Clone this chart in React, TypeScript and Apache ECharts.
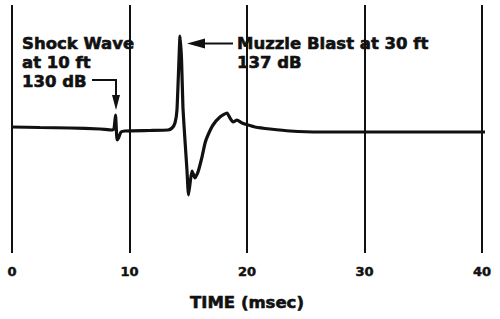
import React, { useEffect, useRef } from "react";
import * as echarts from "echarts";

// Time (msec) of each sampled point of the recorded pressure trace
const timeMs = [
  0, 2.38, 4.94, 7.49, 8.51, 8.68, 8.81, 8.94, 9.06, 9.28, 9.62, 11.74, 13.28,
  13.62, 13.87, 14.04, 14.21, 14.3, 14.43, 14.55, 14.72, 14.89, 15.02, 15.19,
  15.32, 15.57, 15.83, 16.17, 16.43, 16.68, 17.11, 17.7, 18.3, 18.55, 18.81,
  19.15, 19.57, 20.09, 20.68, 21.96, 23.66, 26.21, 30.04, 34.72, 40, 41.36,
];
// Relative pressure amplitude (arbitrary units)
const pressure = [
  3, 2.5, 2, 1, 0, 1, 15, -10, -8, -2, -1, -0.5, 0, 2, 7, 20, 70, 94, 70, 22,
  -10, -40, -65, -50, -41, -48, -42, -27, -13, -5, 5, 13, 17, 12, 8, 10, 7, 5,
  3, 1, -1, -2, -2, -2, -2, -2,
];
const xTicks = [0, 10, 20, 30, 40];
const xTitle = "TIME (msec)";
const shockLabel = ["Shock Wave", "at 10 ft", "130 dB"];
const muzzleLabel = ["Muzzle Blast at 30 ft", "137 dB"];

const INK = "#111";
const FONT = '"DejaVu Sans", sans-serif';

export default function App() {
  const ref = useRef<HTMLDivElement>(null);
  useEffect(() => {
    if (!ref.current) return;
    const chart = echarts.init(ref.current, undefined, { renderer: "svg" });
    const data = timeMs.map((t, i) => [t, pressure[i]]);
    const txt = (text: string, x: number, y: number) => ({
      type: "text",
      x,
      y,
      style: {
        text,
        fill: INK,
        font: `bold 16.5px ${FONT}`,
        verticalAlign: "middle",
        align: "left",
        stroke: INK,
        lineWidth: 0.6,
      },
    });
    chart.setOption({
      animation: false,
      backgroundColor: "#fff",
      grid: { left: 12, right: 18, top: 5, bottom: 66 },
      xAxis: {
        type: "value",
        min: xTicks[0],
        max: xTicks[xTicks.length - 1],
        interval: 10,
        axisLine: { show: false },
        axisTick: { show: false },
        splitLine: { show: true, lineStyle: { color: INK, width: 2 } },
        axisLabel: {
          color: INK,
          fontFamily: FONT,
          fontWeight: "bold",
          fontSize: 13,
          margin: 12,
          textBorderColor: INK,
          textBorderWidth: 0.5,
        },
        name: xTitle,
        nameLocation: "middle",
        nameGap: 41,
        nameTextStyle: {
          color: INK,
          fontFamily: FONT,
          fontWeight: "bold",
          fontSize: 16.5,
          textBorderColor: INK,
          textBorderWidth: 0.6,
        },
      },
      yAxis: {
        type: "value",
        min: -123,
        max: 125,
        show: false,
        splitLine: { show: false },
      },
      series: [
        {
          type: "line",
          data,
          showSymbol: false,
          clip: false,
          smooth: 0.15,
          lineStyle: { color: INK, width: 3.2 },
        },
      ],
      graphic: [
        txt(shockLabel[0], 22, 43.5),
        txt(shockLabel[1], 22, 62),
        txt(shockLabel[2], 22, 81.5),
        txt(muzzleLabel[0], 237, 43.5),
        txt(muzzleLabel[1], 237, 62),
        {
          type: "polyline",
          shape: { points: [[92, 80], [116, 80], [116, 97]] },
          style: { stroke: INK, lineWidth: 2, fill: null },
        },
        {
          type: "polygon",
          shape: { points: [[112, 95], [120, 95], [116, 110]] },
          style: { fill: INK },
        },
        {
          type: "line",
          shape: { x1: 200, y1: 43.5, x2: 233, y2: 43.5 },
          style: { stroke: INK, lineWidth: 2 },
        },
        {
          type: "polygon",
          shape: { points: [[187, 43.5], [205, 38.5], [205, 48.5]] },
          style: { fill: INK },
        },
      ],
    });
    return () => chart.dispose();
  }, []);
  return (
    <div
      ref={ref}
      style={{ position: "fixed", left: 0, top: 0, width: 500, height: 319 }}
    />
  );
}
